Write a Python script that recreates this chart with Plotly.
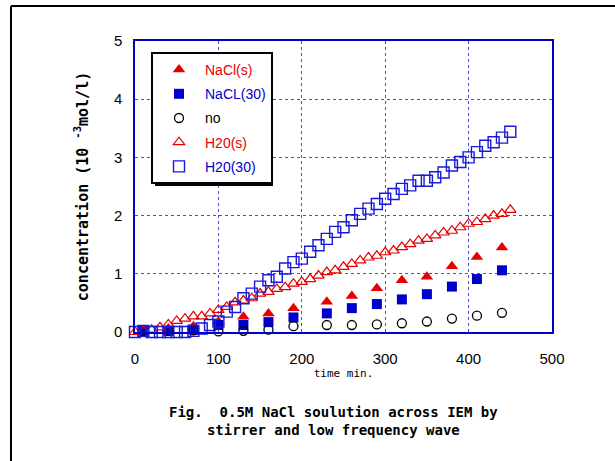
import plotly.graph_objects as go

# ---------------- data ----------------
t_h2o = [0, 10, 20, 30, 40, 50, 60, 70, 80, 90, 100, 110, 120, 130, 140, 150, 160, 170, 180, 190,
         200, 210, 220, 230, 240, 250, 260, 270, 280, 290, 300, 310, 320, 330, 340, 350, 360, 370,
         380, 390, 400, 410, 420, 430, 440, 450]
h2o_30 = [0.0, 0.02, 0.0, 0.0, 0.0, 0.0, 0.0, 0.02, 0.06, 0.12, 0.18, 0.35, 0.43, 0.58, 0.66, 0.78,
          0.89, 0.95, 1.09, 1.20, 1.26, 1.38, 1.49, 1.60, 1.72, 1.80, 1.92, 2.03, 2.12, 2.20, 2.29,
          2.37, 2.46, 2.52, 2.60, 2.60, 2.66, 2.74, 2.86, 2.92, 3.00, 3.09, 3.20, 3.26, 3.34, 3.44]
h2o_s = [0.0, 0.02, 0.04, 0.08, 0.13, 0.19, 0.23, 0.27, 0.27, 0.32, 0.38, 0.43, 0.51, 0.54, 0.58,
         0.66, 0.69, 0.74, 0.77, 0.83, 0.86, 0.91, 0.97, 1.03, 1.06, 1.12, 1.17, 1.23, 1.28, 1.31,
         1.37, 1.40, 1.46, 1.51, 1.57, 1.60, 1.66, 1.71, 1.74, 1.80, 1.86, 1.89, 1.94, 2.00, 2.03, 2.10]

t_nacl = [10, 40, 70, 100, 130, 160, 190, 230, 260, 290, 320, 350, 380, 410, 440]
nacl_s = [0.03, 0.06, 0.10, 0.18, 0.26, 0.32, 0.41, 0.52, 0.62, 0.75, 0.89, 0.95, 1.13, 1.29, 1.45]
nacl_30 = [0.02, 0.02, 0.04, 0.12, 0.12, 0.17, 0.25, 0.32, 0.41, 0.48, 0.56, 0.65, 0.78, 0.91, 1.06]
no_stir = [0.02, 0.02, 0.03, 0.01, 0.02, 0.04, 0.10, 0.12, 0.12, 0.13, 0.15, 0.18, 0.23, 0.28, 0.33]

names = ["NaCl(s)", "NaCL(30)", "no", "H20(s)", "H20(30)"]
x_ticks = [0, 100, 200, 300, 400, 500]
y_ticks = [0, 1, 2, 3, 4, 5]

RED = "#e60000"
BLUE = "#0000cc"
BLACK = "#000000"

# ---------------- layout geometry ----------------
W, H = 615, 461
L, R, T, B = 135, 63, 41, 129
PW, PH = W - L - R, H - T - B


def px_x(p):
    return (p - L) / PW


def px_y(p):
    return (H - B - p) / PH


fig = go.Figure()


def add(x, y, name, color, symbol, size, lw, lcolor, group):
    fig.add_trace(go.Scatter(
        x=x, y=y, mode="markers", name=f"<span style='color:{color}'>{name}</span>",
        legendgroup=group, cliponaxis=False,
        marker=dict(symbol=symbol, size=size, color=lcolor,
                    line=dict(width=lw, color=lcolor)),
    ))


add(t_nacl, nacl_s, names[0], RED, "triangle-up", 11, 0, RED, "a")
add(t_nacl, nacl_30, names[1], BLUE, "square", 10, 0, BLUE, "b")
add(t_nacl, no_stir, names[2], BLACK, "circle-open", 9, 1.3, BLACK, "c")
add(t_h2o, h2o_s, names[3], RED, "triangle-up-open", 10, 1.2, RED, "d")
add(t_h2o, h2o_30, names[4], BLUE, "square-open", 11, 1.4, "#1a1ad6", "e")

tickfont = dict(family="Liberation Sans Narrow, Arial Narrow, Liberation Sans, sans-serif",
                size=15, color="black")

fig.update_layout(
    width=W, height=H,
    margin=dict(l=L, r=R, t=T, b=B, pad=0),
    paper_bgcolor="white", plot_bgcolor="white",
    showlegend=True,
    legend=dict(
        x=px_x(151), y=px_y(52), xanchor="left", yanchor="top",
        bgcolor="white", bordercolor="black", borderwidth=2,
        font=dict(family="Liberation Sans Narrow, Arial Narrow, Liberation Sans, sans-serif", size=14),
        traceorder="grouped", tracegroupgap=3, itemwidth=42,
    ),
    xaxis=dict(
        range=[0, 500], tickvals=x_ticks, ticktext=[str(v) for v in x_ticks],
        showgrid=True, gridcolor="#4a4ae6", griddash="dot", gridwidth=1,
        showline=True, linecolor=BLUE, linewidth=1.5, mirror=True,
        ticks="", zeroline=False, tickfont=tickfont, ticklabelstandoff=12,
        title=dict(text="time min.", standoff=4,
                   font=dict(family="DejaVu Sans Mono, monospace", size=11, color="black")),
    ),
    yaxis=dict(
        range=[0, 5], tickvals=y_ticks, ticktext=[str(v) for v in y_ticks],
        showgrid=True, gridcolor="#4a4ae6", griddash="dot", gridwidth=1,
        showline=True, linecolor=BLUE, linewidth=1.5, mirror=True,
        ticks="", zeroline=False, tickfont=tickfont, ticklabelstandoff=8,
        title=dict(text="<b>concentration (10 <sup>-3</sup>mol/l)</b>", standoff=22,
                   font=dict(family="DejaVu Sans Mono, monospace", size=15, color="black")),
    ),
    annotations=[
        dict(text="<b>Fig.  0.5M NaCl soulution across IEM by<br>stirrer and low frequency wave</b>",
             xref="paper", yref="paper", x=px_x(333), y=px_y(421), xanchor="center", yanchor="middle",
             showarrow=False, align="center",
             font=dict(family="DejaVu Sans Mono, monospace", size=14, color="black")),
    ],
    shapes=[
        # outer figure frame (left and top edges)
        dict(type="line", xref="paper", yref="paper", x0=px_x(11), x1=px_x(616), y0=px_y(6), y1=px_y(6),
             line=dict(color="black", width=2)),
        dict(type="line", xref="paper", yref="paper", x0=px_x(11), x1=px_x(11), y0=px_y(6), y1=px_y(462),
             line=dict(color="black", width=2)),
        # legend drop shadow
        dict(type="rect", xref="paper", yref="paper", x0=px_x(155), x1=px_x(273), y0=px_y(56), y1=px_y(186),
             fillcolor="black", line=dict(width=0), layer="above"),
    ],
)

fig.write_html("out.html")
